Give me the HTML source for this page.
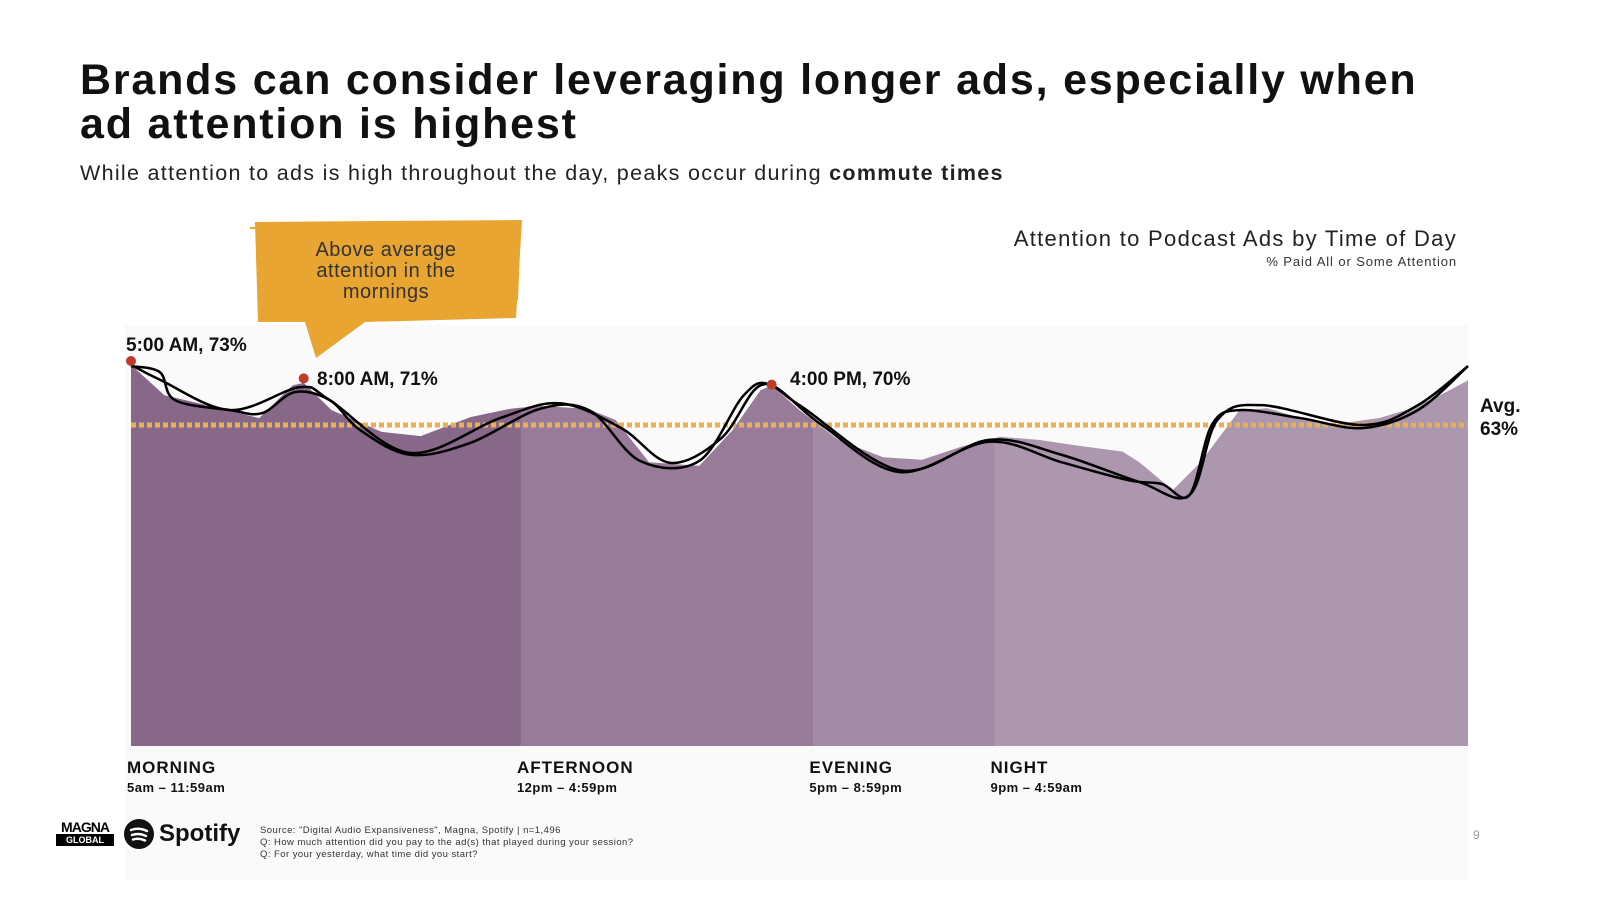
<!DOCTYPE html>
<html><head><meta charset="utf-8"><style>
body{margin:0;width:1600px;height:900px;background:#fff;overflow:hidden;font-family:"Liberation Sans",sans-serif;position:relative}
.abs{position:absolute}
h1{position:absolute;left:80px;top:58px;margin:0;font-size:43px;line-height:44px;font-weight:bold;color:#111;letter-spacing:1.8px}
</style></head><body>
<h1>Brands can consider leveraging longer ads, especially when<br>ad attention is highest</h1>
<div class="abs" style="left:80px;top:161px;font-size:21.5px;color:#222;letter-spacing:1.3px">While attention to ads is high throughout the day, peaks occur during <b>commute times</b></div>
<div class="abs" style="right:143px;top:226px;font-size:22px;color:#222;letter-spacing:1.3px">Attention to Podcast Ads by Time of Day</div>
<div class="abs" style="right:143px;top:254px;font-size:13px;color:#333;letter-spacing:0.9px">% Paid All or Some Attention</div>
<svg class="abs" style="left:0;top:0" width="1600" height="900" id="chart">
<rect x="125" y="325" width="1343" height="555" fill="#fbfafb"/>
<g id="g"></g>
<polygon points="255,222 522,220 516,318 365,322 316,358 305,322 258,322" fill="#e8a532"/>
<polyline points="250,228 520,224 517,300" fill="none" stroke="#e8a532" stroke-width="2"/>
<text x="386" y="256" text-anchor="middle" font-size="20" fill="#333" letter-spacing="0.5"><tspan x="386">Above average</tspan><tspan x="386" dy="21">attention in the</tspan><tspan x="386" dy="21">mornings</tspan></text>
<text x="126" y="351" font-size="19" font-weight="bold" fill="#111">5:00 AM, 73%</text>
<text x="317" y="385" font-size="19" font-weight="bold" fill="#111">8:00 AM, 71%</text>
<text x="790" y="385" font-size="19" font-weight="bold" fill="#111">4:00 PM, 70%</text>
<text x="1480" y="412" font-size="19" font-weight="bold" fill="#111"><tspan x="1480">Avg.</tspan><tspan x="1480" dy="23">63%</tspan></text>
</svg>
<div class="abs" style="left:56px;top:820px;width:58px;font-weight:bold;font-size:14px;line-height:14px;text-align:center"><div style="color:#000;letter-spacing:-1px">MAGNA</div><div style="background:#000;color:#fff;font-size:9px;line-height:12px">GLOBAL</div></div>
<div class="abs" style="left:124px;top:819px;display:flex;align-items:center">
<svg width="30" height="30"><circle cx="15" cy="15" r="15" fill="#111"/><path d="M7 11 Q15 8 23 12 M8 16 Q15 13.5 22 17 M9 20.5 Q15 18.5 21 21.5" stroke="#fff" stroke-width="2.5" fill="none" stroke-linecap="round"/></svg>
<span style="font-weight:bold;font-size:24px;margin-left:5px;color:#111">Spotify</span></div>
<div class="abs" style="left:260px;top:825px;font-size:9.5px;line-height:12px;color:#333;letter-spacing:0.45px">Source: "Digital Audio Expansiveness", Magna, Spotify | n=1,496<br>Q: How much attention did you pay to the ad(s) that played during your session?<br>Q: For your yesterday, what time did you start?</div>
<div class="abs" style="left:1473px;top:828px;font-size:12px;color:#999">9</div>
<script>
const hours=[0,0.6,1.6,2.3,2.9,3.1,3.6,4.5,5.2,6.1,6.8,7.3,8.2,8.7,9.3,10.2,10.8,11.3,11.5,12.0,12.7,13.5,14.2,14.9,15.6,16.3,16.9,17.8,18.1,18.7,19.2,19.9,20.4,21.0,21.5,22.4,23.0,23.5,24];
const attention=[72.7,67.8,65.7,64.1,69.4,69.8,65.4,61.9,61.2,64.3,65.6,66.1,65.6,63.8,57.0,56.4,62.2,68.6,69.4,65.4,60.6,57.8,57.4,59.5,61.1,60.6,59.8,58.7,57.0,52.5,57.0,65.4,65.7,64.1,63.0,64.1,65.7,67.8,70.2];
const trend1Hours=[0,0.52,0.79,1.78,2.35,2.94,3.57,4.11,5.01,6.09,7.34,8.24,9.14,10.2,11.0,11.5,12.4,13.8,15.4,16.7,17.9,18.5,19.0,19.4,19.9,21.0,22.1,23.1,24];
const trend1=[72.5,71.5,67.0,65.4,64.9,68.3,67.0,62.2,58.2,60.1,65.6,65.3,57.2,57.2,67.8,69.4,63.0,55.4,60.3,57.0,54.1,53.5,51.7,63.0,65.4,64.1,62.5,65.4,72.5];
const trend2Hours=[0,0.52,1.78,3.03,3.57,5.01,6.62,7.7,8.8,9.68,10.6,11.3,12.0,13.8,15.4,16.7,18.1,19.0,19.5,20.3,22.1,23.1,24];
const trend2=[72.7,70.3,65.4,69.1,67.0,58.5,64.1,66.5,62.5,56.9,60.9,69.4,66.2,55.7,60.6,58.2,53.8,51.7,63.8,66.2,63.0,66.2,72.5];
const periods=["MORNING","AFTERNOON","EVENING","NIGHT"];
const periodRanges=["5am – 11:59am","12pm – 4:59pm","5pm – 8:59pm","9pm – 4:59am"];
const periodStart=[0,7.0,12.25,15.5];
const periodEnd=[7.0,12.25,15.5,24];
const periodColors=["#886888","#977b98","#a48ba5","#ac97ae"];
const peakHours=[0,3.1,11.5];
const peakValues=[73,71,70];
const average=63;

const X=h=>131+h*(1468-131)/24;
const Y=v=>425-(v-63)*6.2;
const base=746;
const NS="http://www.w3.org/2000/svg";
const g=document.getElementById('g');
function mk(t,a){const e=document.createElementNS(NS,t);for(const k in a)e.setAttribute(k,a[k]);g.appendChild(e);return e;}
const defs=mk('defs',{});
const cp=document.createElementNS(NS,'clipPath');cp.setAttribute('id','areaClip');defs.appendChild(cp);
const ap=document.createElementNS(NS,'path');
let d='M'+X(hours[0])+','+base;
hours.forEach((h,i)=>d+=' L'+X(h)+','+Y(attention[i]));
d+=' L'+X(hours[hours.length-1])+','+base+' Z';
ap.setAttribute('d',d);cp.appendChild(ap);
periods.forEach((p,i)=>{
 const r=mk('rect',{x:X(periodStart[i]),y:300,width:X(periodEnd[i])-X(periodStart[i]),height:base-300,fill:periodColors[i],'clip-path':'url(#areaClip)'});
 
 
 const t=mk('text',{x:X(periodStart[i])-4,y:773,'font-size':17,'font-weight':'bold',fill:'#111','letter-spacing':1});
 t.textContent=p;
 
 
 const t2=mk('text',{x:X(periodStart[i])-4,y:792,'font-size':13,'font-weight':'bold',fill:'#111','letter-spacing':0.5});
 t2.textContent=periodRanges[i];
 
 
});
const avg=mk('line',{x1:X(0),x2:X(24),y1:Y(average),y2:Y(average),stroke:'#e8b050','stroke-width':5,'stroke-dasharray':'5,3'});


function smooth(hs,vs){
 const p=hs.map((h,i)=>[X(h),Y(vs[i])]);
 let s='M'+p[0][0]+','+p[0][1];
 for(let i=0;i<p.length-1;i++){
  const p0=p[i-1]||p[i],p1=p[i],p2=p[i+1],p3=p[i+2]||p2;
  s+=' C'+(p1[0]+(p2[0]-p0[0])/6)+','+(p1[1]+(p2[1]-p0[1])/6)+' '+(p2[0]-(p3[0]-p1[0])/6)+','+(p2[1]-(p3[1]-p1[1])/6)+' '+p2[0]+','+p2[1];
 }
 return s;
}
const l1=mk('path',{d:smooth(trend1Hours,trend1),fill:'none',stroke:'#000','stroke-width':2.5});


const l2=mk('path',{d:smooth(trend2Hours,trend2),fill:'none',stroke:'#000','stroke-width':2.5});


peakHours.forEach((h,i)=>{
 const c=mk('circle',{cx:X(h),cy:Y(peakValues[i])+(i==0?-2:3),r:5,fill:'#c0392b'});
 
 
});
</script>
</body></html>
